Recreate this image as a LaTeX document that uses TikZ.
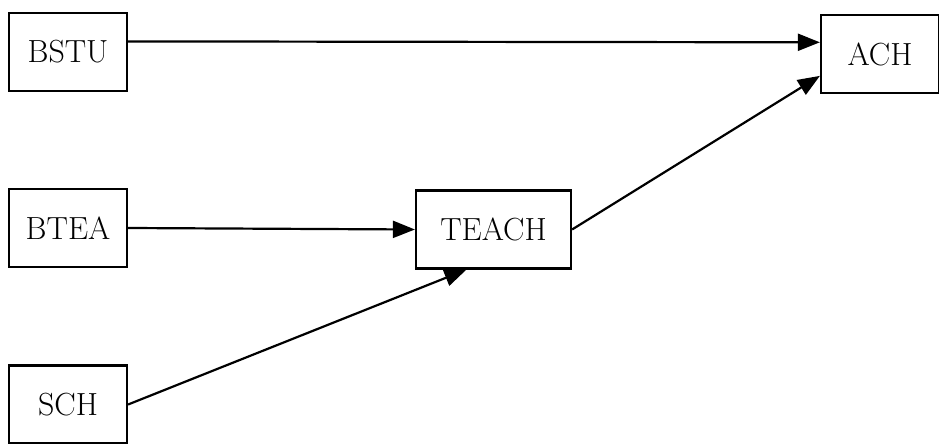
\documentclass[tikz,border=0pt]{standalone}
\usepackage{tikz}
\usetikzlibrary{arrows.meta}

\begin{document}
\begin{tikzpicture}
	[x=0.5pt, y=-0.5pt, line width=1.1pt,
	box/.style = {
		draw, minimum width=59pt, minimum height=39pt, inner sep=0pt,
		font=\fontsize{16}{19}\selectfont
	},
	wide/.style = {
		minimum width=77.5pt
	},
	wire/.style = {
		-{Triangle[length=11pt, width=8.5pt]}
	}]
	
	\useasboundingbox (0,0) rectangle (939,444);
	
	%Draw nodes
	\node[box] at (68,52) (bstu) {BSTU};
	\node[box] at (68,228) (btea) {BTEA};
	\node[box] at (68,404.5) (sch) {SCH};
	\node[box,wide] at (493.5,229.5) (teach) {TEACH};
	\node[box] at (880,54) (ach) {ACH};
	
	%Draw wires
	\draw[wire] (bstu.10) -- (ach.169);
	\draw[wire] (btea.east) -- (teach.west);
	\draw[wire] (sch.east) -- (teach.236);
	\draw[wire] (teach.east) -- (ach.200);
\end{tikzpicture}
\end{document}
